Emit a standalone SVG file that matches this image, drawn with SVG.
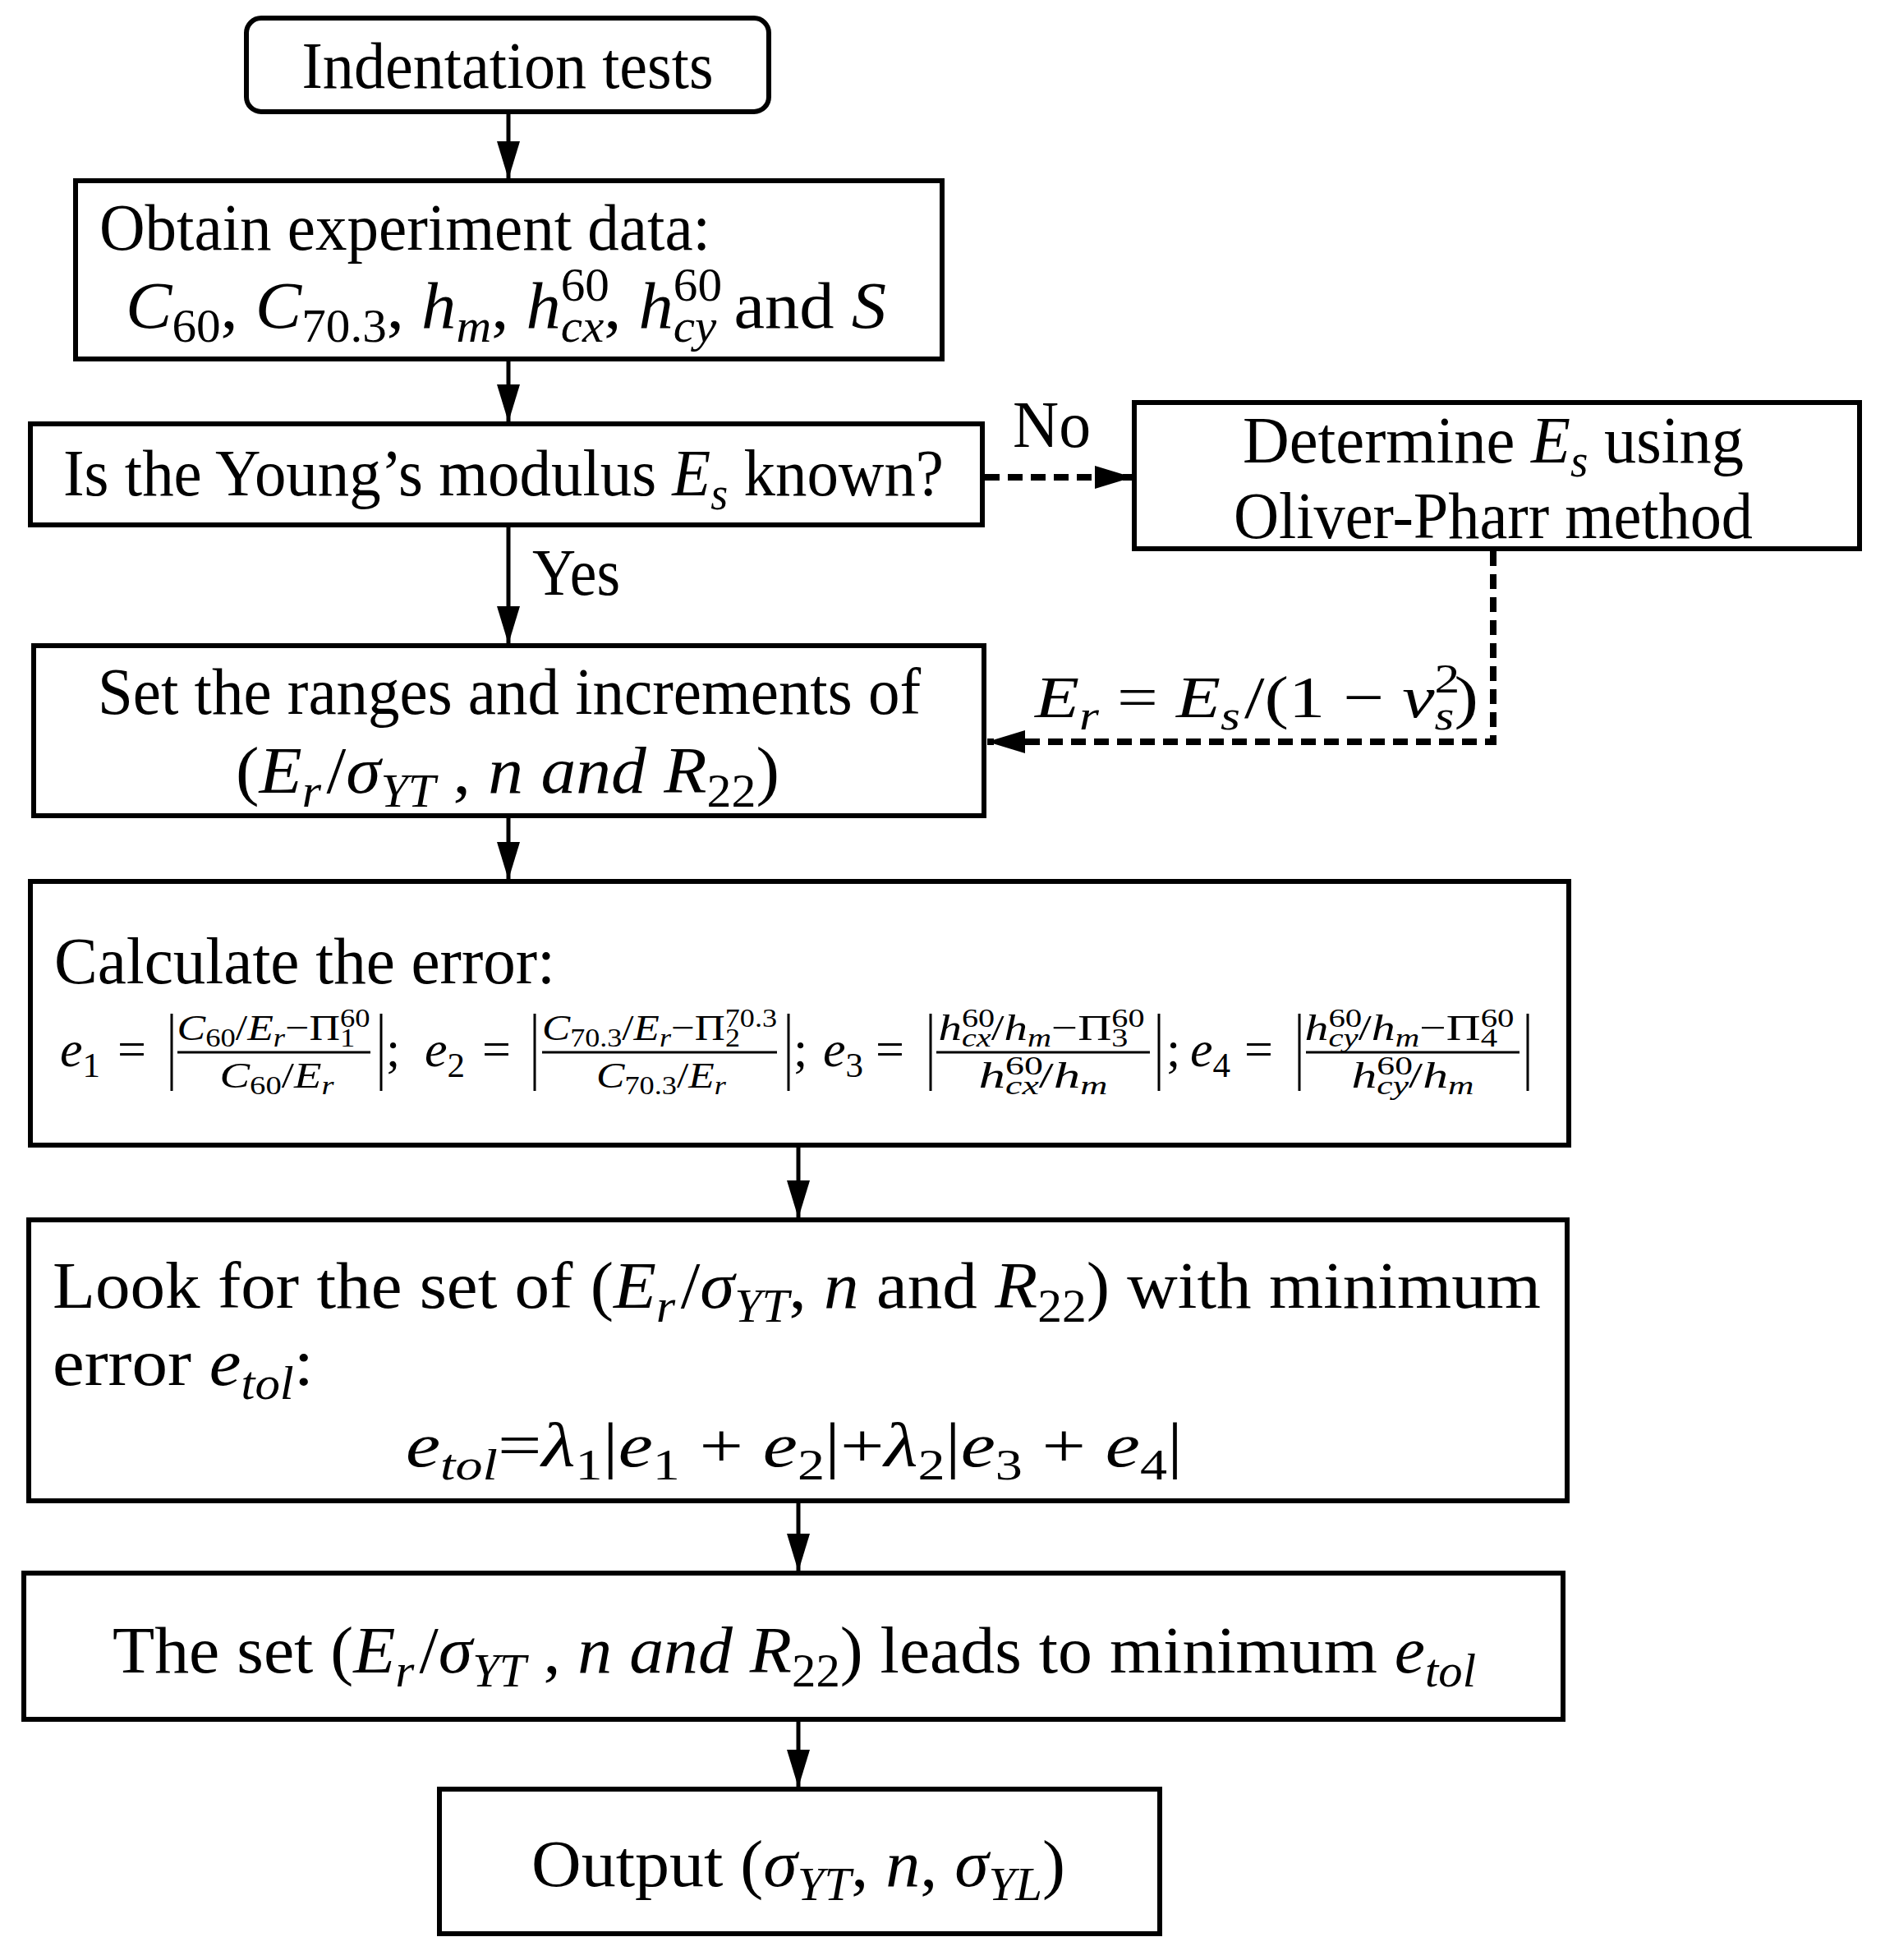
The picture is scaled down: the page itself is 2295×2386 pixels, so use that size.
<svg xmlns="http://www.w3.org/2000/svg" width="2295" height="2386" viewBox="0 0 2295 2386">
<style>
.box{fill:#fff;stroke:#000;stroke-width:6}
.t{font-family:"Liberation Serif","Times New Roman",serif;font-size:80px;fill:#000}
.m{font-style:italic}
.sb{font-size:56px}
.conn{stroke:#000;stroke-width:5;fill:none}
.dash{stroke:#000;stroke-width:8;fill:none;stroke-dasharray:18 10}
.fx{font-size:44px}
.fs{font-size:31px}
.ek{font-size:62px}
.eks{font-size:43px}
.lb{font-size:72px}
.lbs{font-size:50px}
.et{font-size:76px}
.ets{font-size:53px}
.thin{stroke:#000;stroke-width:3;fill:none}
</style>
<defs>
<marker id="ah" markerUnits="userSpaceOnUse" markerWidth="46" markerHeight="28" refX="46" refY="14" orient="auto" viewBox="0 0 46 28"><path d="M0,0 L46,14 L0,28 z" fill="#000"/></marker>
</defs>

<g id="connectors">
<path class="conn" d="M619 136 V218" marker-end="url(#ah)"/>
<path class="conn" d="M619 437 V514" marker-end="url(#ah)"/>
<path class="conn" d="M619 639 V784" marker-end="url(#ah)"/>
<path class="conn" d="M619 993 V1071" marker-end="url(#ah)"/>
<path class="conn" d="M972 1394 V1483" marker-end="url(#ah)"/>
<path class="conn" d="M972 1827 V1913" marker-end="url(#ah)"/>
<path class="conn" d="M972 2093 V2176" marker-end="url(#ah)"/>
<path class="dash" d="M1199 581 H1379" marker-end="url(#ah)"/>
<path class="dash" d="M1818 671 V903 H1202" marker-end="url(#ah)"/>
<text class="t" x="1233" y="544" textLength="95" lengthAdjust="spacingAndGlyphs">No</text>
<text class="t" x="648" y="724" textLength="107" lengthAdjust="spacingAndGlyphs">Yes</text>
<text class="t lb" x="1260" y="873" textLength="540" lengthAdjust="spacingAndGlyphs"><tspan class="m">E</tspan><tspan class="lbs m" dy="15">r</tspan><tspan dy="-15"> = </tspan><tspan class="m">E</tspan><tspan class="lbs m" dy="15">s</tspan><tspan dx="4" dy="-15">/(1 − </tspan><tspan class="m">ν</tspan><tspan class="lbs" dy="-30">2</tspan><tspan class="lbs m" dx="-25" dy="45">s</tspan><tspan dy="-15">)</tspan></text>
</g>

<g id="n1">
<rect class="box" x="300" y="22" width="636" height="114" rx="18"/>
<text class="t" x="618" y="107" text-anchor="middle" textLength="501" lengthAdjust="spacingAndGlyphs">Indentation tests</text>
</g>

<g id="n2">
<rect class="box" x="92" y="220" width="1055" height="217"/>
<text class="t" x="121" y="304" textLength="744" lengthAdjust="spacingAndGlyphs">Obtain experiment data:</text>
<text class="t" x="616" y="399" text-anchor="middle" textLength="926" lengthAdjust="spacingAndGlyphs"><tspan class="m">C</tspan><tspan class="sb" dy="17">60</tspan><tspan dy="-17">, </tspan><tspan class="m">C</tspan><tspan class="sb" dy="17">70.3</tspan><tspan dy="-17">, </tspan><tspan class="m">h</tspan><tspan class="sb m" dy="17">m</tspan><tspan dy="-17">, </tspan><tspan class="m">h</tspan><tspan class="sb" dy="-33">60</tspan><tspan class="sb m" dx="-56" dy="50">cx</tspan><tspan dy="-17">, </tspan><tspan class="m">h</tspan><tspan class="sb" dy="-33">60</tspan><tspan class="sb m" dx="-56" dy="50">cy</tspan><tspan dy="-17"> and </tspan><tspan class="m">S</tspan></text>
</g>

<g id="n3">
<rect class="box" x="37" y="516" width="1159" height="123"/>
<text class="t" x="613" y="603" text-anchor="middle" textLength="1072" lengthAdjust="spacingAndGlyphs">Is the Young’s modulus <tspan class="m">E</tspan><tspan class="sb m" dy="17">s</tspan><tspan dy="-17"> known?</tspan></text>
</g>

<g id="n4">
<rect class="box" x="1381" y="490" width="883" height="178"/>
<text class="t" x="1818" y="563" text-anchor="middle" textLength="610" lengthAdjust="spacingAndGlyphs">Determine <tspan class="m">E</tspan><tspan class="sb m" dy="17">s</tspan><tspan dy="-17"> using</tspan></text>
<text class="t" x="1818" y="655" text-anchor="middle" textLength="632" lengthAdjust="spacingAndGlyphs">Oliver-Pharr method</text>
</g>

<g id="n5">
<rect class="box" x="41" y="786" width="1157" height="207"/>
<text class="t" x="620" y="869" text-anchor="middle" textLength="1002" lengthAdjust="spacingAndGlyphs">Set the ranges and increments of</text>
<text class="t" x="618" y="965" text-anchor="middle" textLength="662" lengthAdjust="spacingAndGlyphs">(<tspan class="m">E</tspan><tspan class="sb m" dy="17">r</tspan><tspan dx="6" dy="-17">/</tspan><tspan class="m">σ</tspan><tspan class="sb m" dy="17">YT</tspan><tspan dy="-17"> , </tspan><tspan class="m">n and R</tspan><tspan class="sb" dy="17">22</tspan><tspan dy="-17">)</tspan></text>
</g>

<g id="n6">
<rect class="box" x="37" y="1073" width="1873" height="321"/>
<text class="t" x="66" y="1197" textLength="610" lengthAdjust="spacingAndGlyphs">Calculate the error:</text>
<g class="thin">
<path d="M209 1234 V1328 M464 1234 V1328 M651 1234 V1328 M960 1234 V1328 M1133 1234 V1328 M1411 1234 V1328 M1582 1234 V1328 M1860 1234 V1328"/>
<path d="M216 1281 H451 M660 1281 H946 M1140 1281 H1400 M1590 1281 H1850"/>
</g>
<text class="t ek m" x="73" y="1298">e<tspan class="eks" dy="13" font-style="normal">1</tspan></text>
<text class="t ek" x="143" y="1298">=</text>
<text class="t ek" x="470" y="1298">;</text>
<text class="t ek m" x="517" y="1298">e<tspan class="eks" dy="13" font-style="normal">2</tspan></text>
<text class="t ek" x="587" y="1298">=</text>
<text class="t ek" x="966" y="1298">;</text>
<text class="t ek m" x="1002" y="1298">e<tspan class="eks" dy="13" font-style="normal">3</tspan></text>
<text class="t ek" x="1066" y="1298">=</text>
<text class="t ek" x="1420" y="1298">;</text>
<text class="t ek m" x="1449" y="1298">e<tspan class="eks" dy="13" font-style="normal">4</tspan></text>
<text class="t ek" x="1515" y="1298">=</text>

<text class="t fx" x="333" y="1266" text-anchor="middle" textLength="235" lengthAdjust="spacingAndGlyphs"><tspan class="m">C</tspan><tspan class="fs" dy="8">60</tspan><tspan dy="-8">/</tspan><tspan class="m">E</tspan><tspan class="fs m" dy="8">r</tspan><tspan dy="-8">−Π</tspan><tspan class="fs" dy="-16">60</tspan><tspan class="fs" dx="-31" dy="24">1</tspan></text>
<text class="t fx" x="337" y="1324" text-anchor="middle" textLength="139" lengthAdjust="spacingAndGlyphs"><tspan class="m">C</tspan><tspan class="fs" dy="8">60</tspan><tspan dy="-8">/</tspan><tspan class="m">E</tspan><tspan class="fs m" dy="8">r</tspan></text>

<text class="t fx" x="803" y="1266" text-anchor="middle" textLength="286" lengthAdjust="spacingAndGlyphs"><tspan class="m">C</tspan><tspan class="fs" dy="8">70.3</tspan><tspan dy="-8">/</tspan><tspan class="m">E</tspan><tspan class="fs m" dy="8">r</tspan><tspan dy="-8">−Π</tspan><tspan class="fs" dy="-16">70.3</tspan><tspan class="fs" dx="-54" dy="24">2</tspan></text>
<text class="t fx" x="805" y="1324" text-anchor="middle" textLength="158" lengthAdjust="spacingAndGlyphs"><tspan class="m">C</tspan><tspan class="fs" dy="8">70.3</tspan><tspan dy="-8">/</tspan><tspan class="m">E</tspan><tspan class="fs m" dy="8">r</tspan></text>

<text class="t fx" x="1268" y="1266" text-anchor="middle" textLength="251" lengthAdjust="spacingAndGlyphs"><tspan class="m">h</tspan><tspan class="fs" dy="-16">60</tspan><tspan class="fs m" dx="-31" dy="24">cx</tspan><tspan dy="-8">/</tspan><tspan class="m">h</tspan><tspan class="fs m" dy="8">m</tspan><tspan dy="-8">−Π</tspan><tspan class="fs" dy="-16">60</tspan><tspan class="fs" dx="-31" dy="24">3</tspan></text>
<text class="t fx" x="1270" y="1324" text-anchor="middle" textLength="157" lengthAdjust="spacingAndGlyphs"><tspan class="m">h</tspan><tspan class="fs" dy="-16">60</tspan><tspan class="fs m" dx="-31" dy="24">cx</tspan><tspan dy="-8">/</tspan><tspan class="m">h</tspan><tspan class="fs m" dy="8">m</tspan></text>

<text class="t fx" x="1716" y="1266" text-anchor="middle" textLength="255" lengthAdjust="spacingAndGlyphs"><tspan class="m">h</tspan><tspan class="fs" dy="-16">60</tspan><tspan class="fs m" dx="-31" dy="24">cy</tspan><tspan dy="-8">/</tspan><tspan class="m">h</tspan><tspan class="fs m" dy="8">m</tspan><tspan dy="-8">−Π</tspan><tspan class="fs" dy="-16">60</tspan><tspan class="fs" dx="-31" dy="24">4</tspan></text>
<text class="t fx" x="1720" y="1324" text-anchor="middle" textLength="149" lengthAdjust="spacingAndGlyphs"><tspan class="m">h</tspan><tspan class="fs" dy="-16">60</tspan><tspan class="fs m" dx="-31" dy="24">cy</tspan><tspan dy="-8">/</tspan><tspan class="m">h</tspan><tspan class="fs m" dy="8">m</tspan></text>
</g>

<g id="n7">
<rect class="box" x="35" y="1485" width="1873" height="342"/>
<text class="t" x="64" y="1592" textLength="1812" lengthAdjust="spacingAndGlyphs">Look for the set of (<tspan class="m">E</tspan><tspan class="sb m" dy="17">r</tspan><tspan dx="6" dy="-17">/</tspan><tspan class="m">σ</tspan><tspan class="sb m" dy="17">YT</tspan><tspan dy="-17">, </tspan><tspan class="m">n</tspan> and <tspan class="m">R</tspan><tspan class="sb" dy="17">22</tspan><tspan dy="-17">) with minimum</tspan></text>
<text class="t" x="64" y="1686" textLength="318" lengthAdjust="spacingAndGlyphs">error <tspan class="m">e</tspan><tspan class="sb m" dy="17">tol</tspan><tspan dy="-17">:</tspan></text>
<text class="t et" x="494" y="1785" textLength="946" lengthAdjust="spacingAndGlyphs"><tspan class="m">e</tspan><tspan class="ets m" dy="16">tol</tspan><tspan dy="-16">=</tspan><tspan class="m">λ</tspan><tspan class="ets" dy="16">1</tspan><tspan dy="-16">|</tspan><tspan class="m">e</tspan><tspan class="ets" dy="16">1</tspan><tspan dy="-16"> + </tspan><tspan class="m">e</tspan><tspan class="ets" dy="16">2</tspan><tspan dy="-16">|+</tspan><tspan class="m">λ</tspan><tspan class="ets" dy="16">2</tspan><tspan dy="-16">|</tspan><tspan class="m">e</tspan><tspan class="ets" dy="16">3</tspan><tspan dy="-16"> + </tspan><tspan class="m">e</tspan><tspan class="ets" dy="16">4</tspan><tspan dy="-16">|</tspan></text>
</g>

<g id="n8">
<rect class="box" x="29" y="1915" width="1874" height="178"/>
<text class="t" x="967" y="2036" text-anchor="middle" textLength="1660" lengthAdjust="spacingAndGlyphs">The set (<tspan class="m">E</tspan><tspan class="sb m" dy="17">r</tspan><tspan dx="6" dy="-17">/</tspan><tspan class="m">σ</tspan><tspan class="sb m" dy="17">YT</tspan><tspan dy="-17"> , </tspan><tspan class="m">n and R</tspan><tspan class="sb" dy="17">22</tspan><tspan dy="-17">) leads to minimum </tspan><tspan class="m">e</tspan><tspan class="sb m" dy="17">tol</tspan></text>
</g>

<g id="n9">
<rect class="box" x="535" y="2178" width="877" height="176"/>
<text class="t" x="972" y="2296" text-anchor="middle" textLength="650" lengthAdjust="spacingAndGlyphs">Output (<tspan class="m">σ</tspan><tspan class="sb m" dy="17">YT</tspan><tspan dy="-17">, </tspan><tspan class="m">n</tspan>, <tspan class="m">σ</tspan><tspan class="sb m" dy="17">YL</tspan><tspan dy="-17">)</tspan></text>
</g>
</svg>
